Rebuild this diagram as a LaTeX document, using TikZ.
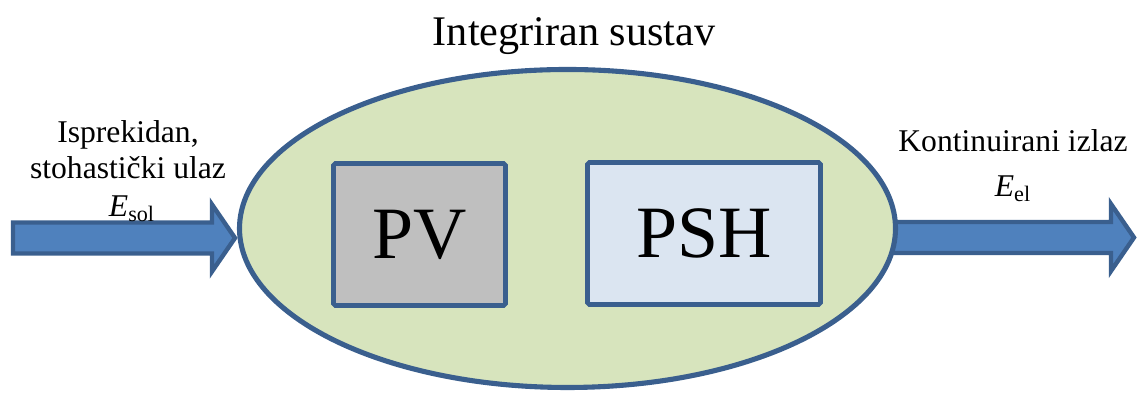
\documentclass[tikz,border=0pt]{standalone}
\usepackage{fontspec}
\setmainfont{Liberation Serif}
\usetikzlibrary{shapes.geometric}
\definecolor{sysgreen}{HTML}{D7E4BD}
\definecolor{sysblue}{HTML}{3A5F8E}
\definecolor{arrowblue}{HTML}{4F81BD}
\definecolor{pvgray}{HTML}{BFBFBF}
\definecolor{pshblue}{HTML}{DBE5F1}

\begin{document}
\begin{tikzpicture}[
  block/.style={draw=sysblue, line width=2.6pt, rounded corners=1pt, minimum height=2.84cm, inner sep=0pt, font=\fontsize{42}{46}\selectfont},
  flow/.style={fill=arrowblue, draw=sysblue, line width=2.5pt, line join=miter},
  txt/.style={anchor=base, inner sep=0pt, font=\fontsize{18}{21}\selectfont}
]
\useasboundingbox (0,0) rectangle (22.74,7.92);

% arrows
{
\coordinate (inTail) at (0.26,3.16);
\coordinate (inTip) at (4.70,3.16);
\draw[flow] (inTail) ++(0,0.31) -- ++(3.98,0) -- ++(0,0.36) -- (inTip) -- ++(-0.46,-0.67) -- ++(0,0.36) -- ++(-3.98,0) -- cycle;

\coordinate (outTail) at (17.8,3.17);
\coordinate (outTip) at (22.68,3.17);
\draw[flow] (outTail) ++(0,0.31) -- ++(4.42,0) -- ++(0,0.36) -- (outTip) -- ++(-0.46,-0.67) -- ++(0,0.36) -- ++(-4.42,0) -- cycle;
}

% system
\node[ellipse, draw=sysblue, fill=sysgreen, line width=2.9pt, minimum width=13.12cm, minimum height=6.36cm, inner sep=0pt] (sys) at (11.35,3.35) {};

\node[block, fill=pvgray, minimum width=3.44cm] (pv) at (8.39,3.23) {PV};
\node[block, fill=pshblue, minimum width=4.66cm] (psh) at (14.08,3.25) {PSH};

% labellings
{
\node[txt, font=\fontsize{24}{28}\selectfont] (title) at (11.48,7.0) {Integriran sustav};

\node[txt] (inA) at (2.56,5.06) {Isprekidan,};
\node[txt] (inB) at (2.56,4.34) {stohastički ulaz};
\node[txt] (inC) at (2.64,3.58) {\textit{E}\textsubscript{sol}};

\node[txt] (outA) at (20.26,4.88) {Kontinuirani izlaz};
\node[txt] (outB) at (20.26,3.98) {\textit{E}\textsubscript{el}};
}
\end{tikzpicture}
\end{document}
